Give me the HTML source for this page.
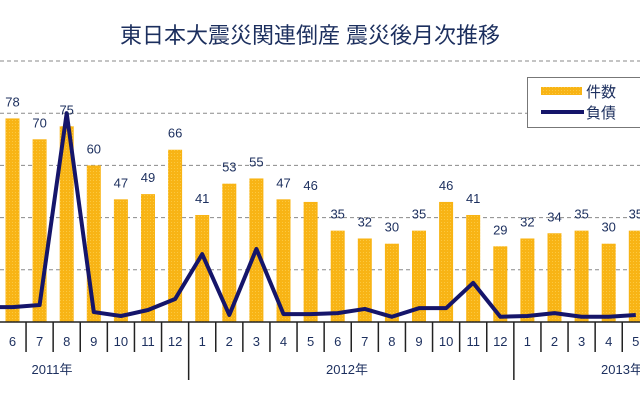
<!DOCTYPE html>
<html><head><meta charset="utf-8"><style>
body{margin:0;background:#fff;}
svg{display:block;font-family:"Liberation Sans","Noto Sans CJK JP",sans-serif;}
</style></head><body>
<svg id="chart" width="640" height="400" viewBox="0 0 640 400">
<defs>
<pattern id="hatch" width="3" height="3" patternUnits="userSpaceOnUse">
<rect width="3" height="3" fill="#f8b415"/>
<rect width="1" height="1" fill="#fcc840"/>
</pattern>
</defs>
<text x="310" y="43" text-anchor="middle" font-size="22" fill="#1c2f5e">東日本大震災関連倒産 震災後月次推移</text>
<g id="grid"></g>
<g id="bars"></g>
<g id="line"></g>
<g id="labels"></g>
<g id="axis"></g>
<g>
<rect x="527.5" y="77.5" width="120" height="50" fill="#fff" stroke="#777"/>
<rect x="541" y="87" width="41" height="8" fill="url(#hatch)"/>
<text x="586" y="97" font-size="15" fill="#1c2f5e">件数</text>
<line x1="541" y1="112" x2="584" y2="112" stroke="#15156a" stroke-width="4"/>
<text x="586" y="118" font-size="15" fill="#1c2f5e">負債</text>
</g>
</svg>
<script>
const months=[5,6,7,8,9,10,11,12,1,2,3,4,5,6,7,8,9,10,11,12,1,2,3,4,5];
const counts=[80,78,70,75,60,47,49,66,41,53,55,47,46,35,32,30,35,46,41,29,32,34,35,30,35];
const debt=[5.7,5.7,6.5,80,3.8,2.3,4.6,8.8,26,2.7,28,3,3,3.4,5,2,5.3,5.3,15,2,2.3,3.4,2,2,2.7];
const gridTicks=[20,40,60,80,100];
const years=["2011年","2012年","2013年"];
const NS="http://www.w3.org/2000/svg";
const base=322, k=2.61, x0=-14.6, step=27.1;
function X(i){return x0+step*i;}
function Y(v){return base-v*k;}
function mk(tag,attrs,parent){const e=document.createElementNS(NS,tag);for(const a in attrs)e.setAttribute(a,attrs[a]);document.getElementById(parent).appendChild(e);return e;}
gridTicks.forEach((t)=>{
 const g=mk('line',{x1:0,x2:640,y1:Y(t),y2:Y(t),stroke:'#8a8a8a','stroke-dasharray':'4 3','stroke-width':1},'grid');
 
 
});
counts.forEach((c,i)=>{
 const b=mk('rect',{x:X(i)-7,y:Y(c),width:14,height:c*k,fill:'url(#hatch)'},'bars');
 
 
 const t=mk('text',{x:X(i),y:Y(c)-12,'text-anchor':'middle','font-size':13,fill:'#1c2f5e'},'labels');
 t.textContent=c;
 
 
});
const pts=debt.map((d,i)=>X(i)+','+Y(d)).join(' ');
const pl=mk('polyline',{points:pts,fill:'none',stroke:'#15156a','stroke-width':4,'stroke-linejoin':'round'},'line');


const ax=mk('line',{x1:0,x2:640,y1:base,y2:base,stroke:'#222','stroke-width':1.5},'axis');


months.forEach((m,i)=>{
 const bx=X(i)+step/2;
 const yearSep=(months[i+1]===1);
 const tk=mk('line',{x1:bx,x2:bx,y1:base,y2:yearSep?380:352,stroke:'#222','stroke-width':1.5},'axis');
 
 
 const t=mk('text',{x:X(i),y:346,'text-anchor':'middle','font-size':13,fill:'#1c2f5e'},'axis');
 t.textContent=m;
 
 
});
const yearX=[52,347,622];
years.forEach((y,i)=>{
 const t=mk('text',{x:yearX[i],y:374,'text-anchor':'middle','font-size':13,fill:'#1c2f5e'},'axis');
 t.textContent=y;
 
 
});
</script>
</body></html>
